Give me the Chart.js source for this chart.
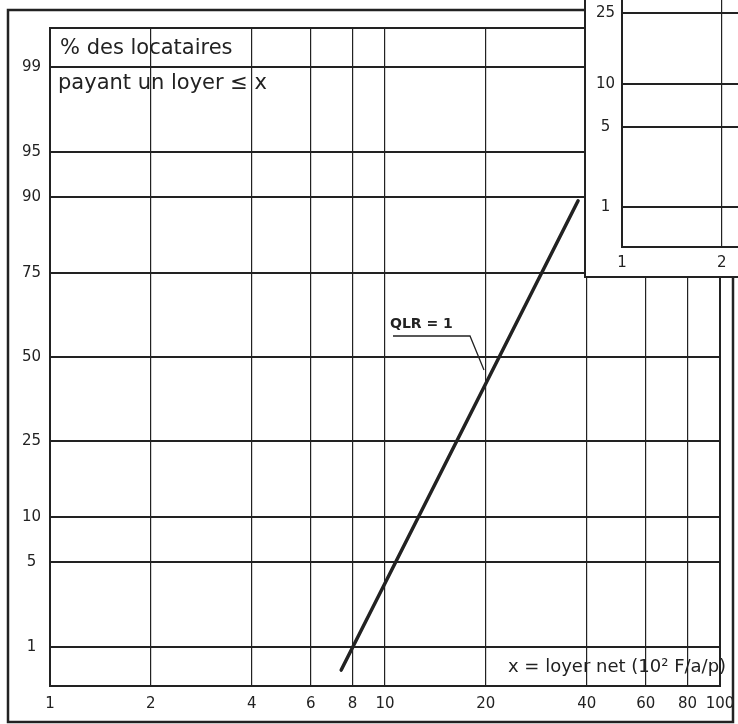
<!DOCTYPE html>
<html>
<head>
<meta charset="utf-8">
<script src="https://cdn.jsdelivr.net/npm/chart.js@4.4.0/dist/chart.umd.min.js"></script>
<style>
  html, body { margin: 0; padding: 0; background: #fff; }
  #wrap { position: relative; width: 738px; height: 724px; overflow: hidden; }
  #main { position: absolute; left: 0; top: 0; }
  #inset { position: absolute; left: 584px; top: 0; width: 154px; height: 278px; background: #fff;
           border-left: 2px solid #222; border-bottom: 2px solid #222; box-sizing: border-box; overflow: hidden; }
  #insetChart { position: absolute; left: 0; top: -20px; }
</style>
</head>
<body>
<div id="wrap">
  <canvas id="main" width="738" height="724"></canvas>
  <div id="inset"><canvas id="insetChart" width="152" height="296"></canvas></div>
</div>
<script>
// loyer net (10^2 F) : axe log
const xTicks = [1, 2, 4, 6, 8, 10, 20, 40, 60, 80, 100];
// % des locataires : échelle gaussienne
const yTicks = [1, 5, 10, 25, 50, 75, 90, 95, 99];

// droite QLR = 1 (deux extrémités)
const lineX = [7.4, 37.7];
const linePct = [0.6, 89.5];

// encart (coin haut droit, partiellement visible)
const insetXTicks = [1, 2];
const insetYTicks = [1, 5, 10, 25];

const ink = "#222";
const font = { family: "DejaVu Sans", size: 15 };

// inverse de la loi normale (Acklam)
function probit(p) {
  const a = [-39.69683028665376, 220.9460984245205, -275.9285104469687, 138.3577518672690, -30.66479806614716, 2.506628277459239];
  const b = [-54.47609879822406, 161.5858368580409, -155.6989798598866, 66.80131188771972, -13.28068155288572];
  const c = [-0.007784894002430293, -0.3223964580411365, -2.400758277161838, -2.549732539343734, 4.374664141464968, 2.938163982698783];
  const d = [0.007784695709041462, 0.3224671290700398, 2.445134137142996, 3.754408661907416];
  const pl = 0.02425;
  let q, r;
  if (p < pl) {
    q = Math.sqrt(-2 * Math.log(p));
    return (((((c[0]*q+c[1])*q+c[2])*q+c[3])*q+c[4])*q+c[5]) / ((((d[0]*q+d[1])*q+d[2])*q+d[3])*q+1);
  }
  if (p > 1 - pl) {
    q = Math.sqrt(-2 * Math.log(1 - p));
    return -(((((c[0]*q+c[1])*q+c[2])*q+c[3])*q+c[4])*q+c[5]) / ((((d[0]*q+d[1])*q+d[2])*q+d[3])*q+1);
  }
  q = p - 0.5; r = q * q;
  return (((((a[0]*r+a[1])*r+a[2])*r+a[3])*r+a[4])*r+a[5])*q / (((((b[0]*r+b[1])*r+b[2])*r+b[3])*r+b[4])*r+1);
}

// cadre + textes manuscrits
const decor = {
  id: "decor",
  afterDraw(chart) {
    const { ctx, chartArea: ca } = chart;
    ctx.save();
    ctx.strokeStyle = ink;
    ctx.lineWidth = 2;
    ctx.strokeRect(ca.left, ca.top, ca.right - ca.left, ca.bottom - ca.top);
    // cadre extérieur
    ctx.lineWidth = 2.5;
    ctx.strokeRect(8, 10, 725, 712);

    ctx.fillStyle = ink;
    ctx.textBaseline = "middle";
    ctx.font = "21px 'DejaVu Sans'";
    ctx.fillText("% des locataires", 60, 49);
    ctx.fillText("payant un loyer \u2264 x", 58, 84);

    ctx.font = "bold 14px 'DejaVu Sans'";
    ctx.fillText("QLR = 1", 390, 324);
    ctx.lineWidth = 1.3;
    ctx.beginPath();
    ctx.moveTo(393, 336);
    ctx.lineTo(470, 336);
    ctx.lineTo(484, 370);
    ctx.stroke();

    ctx.font = "18px 'DejaVu Sans'";
    ctx.fillText("x = loyer net (10\u00B2 F/a/p)", 508, 667);
    ctx.restore();
  }
};

new Chart(document.getElementById("main"), {
  type: "scatter",
  data: {
    datasets: [{
      data: lineX.map((x, i) => ({ x, y: probit(linePct[i] / 100) })),
      showLine: true,
      borderColor: ink,
      borderWidth: 3.5,
      borderCapStyle: "round",
      pointRadius: 0
    }]
  },
  options: {
    responsive: false,
    animation: false,
    layout: { padding: { left: 14, top: 28, right: 18, bottom: 0 } },
    plugins: { legend: { display: false }, tooltip: { enabled: false } },
    scales: {
      x: {
        type: "logarithmic",
        min: 1,
        max: 100,
        afterBuildTicks: (s) => { s.ticks = xTicks.map(v => ({ value: v })); },
        afterFit: (s) => { s.height = 38; s.paddingLeft = 0; s.paddingRight = 0; },
        grid: { color: ink, lineWidth: 1.2, drawTicks: false },
        border: { color: ink, width: 2 },
        ticks: { color: ink, font, padding: 9, autoSkip: false, maxRotation: 0,
                 callback: (v, i) => String(xTicks[i]) }
      },
      y: {
        type: "linear",
        min: -2.64,
        max: 2.64,
        afterBuildTicks: (s) => { s.ticks = yTicks.map(p => ({ value: probit(p / 100) })); },
        afterFit: (s) => { s.width = 36; s.paddingTop = 0; s.paddingBottom = 0; },
        grid: { color: ink, lineWidth: 2, drawTicks: false },
        border: { color: ink, width: 2 },
        ticks: { color: ink, font, padding: 9, crossAlign: "center", autoSkip: false,
                 callback: (v, i) => String(yTicks[i]) }
      }
    }
  },
  plugins: [decor]
});

new Chart(document.getElementById("insetChart"), {
  type: "scatter",
  data: { datasets: [{ data: [] }] },
  options: {
    responsive: false,
    animation: false,
    layout: { padding: { top: 20, left: 0, right: 0, bottom: 0 } },
    plugins: { legend: { display: false }, tooltip: { enabled: false } },
    scales: {
      x: {
        type: "logarithmic",
        min: 1,
        max: 2.237,
        afterBuildTicks: (s) => { s.ticks = insetXTicks.map(v => ({ value: v })); },
        afterFit: (s) => { s.height = 29; },
        grid: { color: ink, lineWidth: 1.2, drawTicks: false },
        border: { color: ink, width: 2 },
        ticks: { color: ink, font, padding: 7, autoSkip: false, maxRotation: 0,
                 callback: (v, i) => String(insetXTicks[i]) }
      },
      y: {
        type: "linear",
        min: -2.667,
        max: -0.563,
        afterBuildTicks: (s) => { s.ticks = insetYTicks.map(p => ({ value: probit(p / 100) })); },
        afterFit: (s) => { s.width = 36; },
        grid: { color: ink, lineWidth: 2, drawTicks: false },
        border: { color: ink, width: 2 },
        ticks: { color: ink, font, padding: 7, crossAlign: "center", autoSkip: false,
                 callback: (v, i) => String(insetYTicks[i]) }
      }
    }
  }
});
</script>
</body>
</html>
